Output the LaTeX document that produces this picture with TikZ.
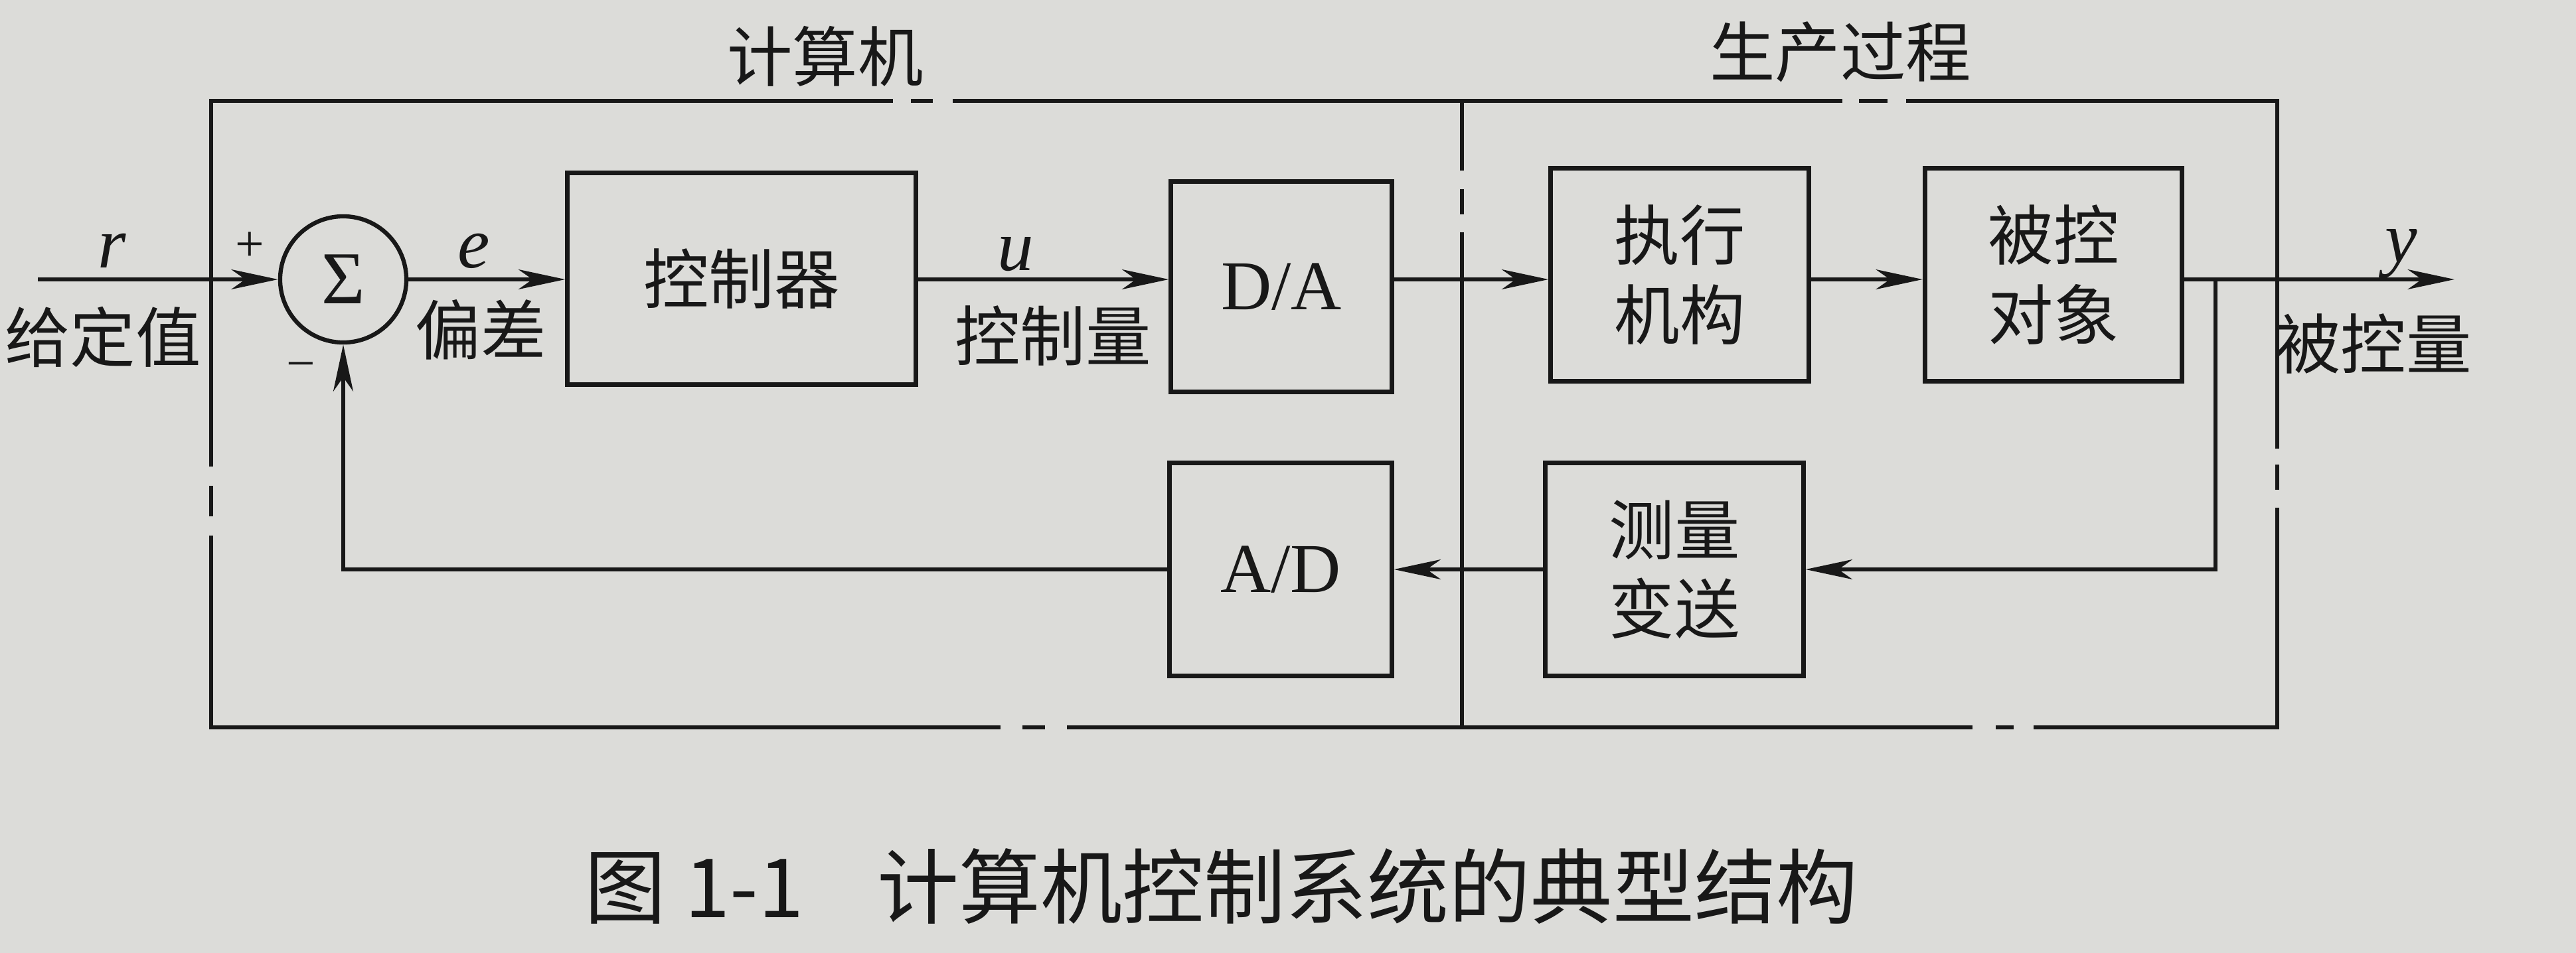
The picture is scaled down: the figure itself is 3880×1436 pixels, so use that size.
\documentclass[tikz,border=0pt]{standalone}
\usepackage{fontspec}
\setmainfont{Liberation Serif}
\newfontfamily\cjk{Noto Sans CJK SC}
\usetikzlibrary{arrows.meta, positioning, calc}
\definecolor{paper}{RGB}{220,220,217}
\definecolor{ink}{RGB}{24,24,24}

\begin{document}
\begin{tikzpicture}[x=0.01cm, y=-0.01cm,
  box/.style={draw=ink,line width=2pt,inner sep=0pt,align=center,text=ink,
              font=\cjk\fontsize{28}{34}\selectfont},
  lbl/.style={inner sep=0pt,text=ink,font=\cjk\fontsize{28}{34}\selectfont},
  sym/.style={inner sep=0pt,text=ink,font=\fontsize{31}{36}\selectfont\itshape},
  sgn/.style={inner sep=0pt,text=ink,font=\fontsize{22}{26}\selectfont},
  arr/.style={-{Stealth[length=20pt,width=8.5pt,inset=6pt]},draw=ink,line width=1.8pt},
  frame/.style={draw=ink,line width=1.7pt}
]
\fill[paper] (0,0) rectangle (3880,1436);
\useasboundingbox (0,0) rectangle (3880,1436);

% outer frame, one dash-dot break on each side
\draw[frame] (318,703) -- (318,152) -- (1345,152) (1372,152) -- (1405,152)
  (1435,152) -- (2775,152) (2800,152) -- (2843,152) (2871,152) -- (3430,152)
  -- (3430,676) (3430,700) -- (3430,738) (3430,765) -- (3430,1096)
  -- (3063,1096) (3033,1096) -- (3006,1096) (2971,1096) -- (1607,1096)
  (1574,1096) -- (1540,1096) (1507,1096) -- (318,1096) -- (318,807)
  (318,778) -- (318,732);
% computer / process divider
\draw[frame] (2202,152) -- (2202,257) (2202,285) -- (2202,323) (2202,350) -- (2202,1096);

\node[lbl] (pc)   at (1243,85) {计算机};
\node[lbl] (proc) at (2772,78) {生产过程};

% blocks
\node[draw=ink,line width=1.8pt,circle,minimum size=1.9cm,inner sep=0pt,
      font=\fontsize{32}{36}\selectfont,text=ink] (sum) at (517,421) {Σ};
\node[box,minimum width=5.24cm,minimum height=3.18cm] (ctrl) at (1117,420) {控制器};
\node[box,font=\fontsize{30}{36}\selectfont,minimum width=3.32cm,minimum height=3.17cm] (da) at (1930,432) {D/A};
\node[box,minimum width=3.88cm,minimum height=3.2cm] (exec) at (2530,414) {执行\\机构};
\node[box,minimum width=3.87cm,minimum height=3.2cm] (plant) at (3093,414) {被控\\对象};
\node[box,minimum width=3.88cm,minimum height=3.21cm] (meas) at (2522,858) {测量\\变送};
\node[box,font=\fontsize{30}{36}\selectfont,minimum width=3.34cm,minimum height=3.21cm] (ad) at (1929,858) {A/D};

\coordinate (in)  at (57,421);
\coordinate (out) at (3697,421);
\coordinate (br)  at (3337,421);

% forward path
\draw[arr] (in) -- (sum);
\draw[arr] (sum) -- (sum -| ctrl.west);
\draw[arr] (ctrl.east |- sum) -- (sum -| da.west);
\draw[arr] (da.east |- sum) -- (sum -| exec.west);
\draw[arr] (exec.east |- sum) -- (sum -| plant.west);
\draw[arr] (plant.east |- sum) -- (out);
% feedback path
\draw[arr] (br) |- (meas);
\draw[arr] (meas) -- (ad);
\draw[arr] (ad) -| (sum);

% signal labels
\node[sym] (r)   at (169,378) {r};
\node[lbl] (gdz) at (155,508) {给定值};
\node[sgn] (pl)  at (376,372) {+};
\node[sgn] (mi)  at (453,560) {−};
\node[sym] (e)   at (714,378) {e};
\node[lbl] (pc2) at (724,497) {偏差};
\node[sym] (u)   at (1530,383) {u};
\node[lbl] (kzl) at (1586,506) {控制量};
\node[sym] (y)   at (3617,382) {y};
\node[lbl] (bkl) at (3575,518) {被控量};

\node[lbl,anchor=west,font=\cjk\fontsize{35}{40}\selectfont] (cap) at (880,1335)
  {图 1-1\hspace{0.9em}计算机控制系统的典型结构};
\end{tikzpicture}
\end{document}
